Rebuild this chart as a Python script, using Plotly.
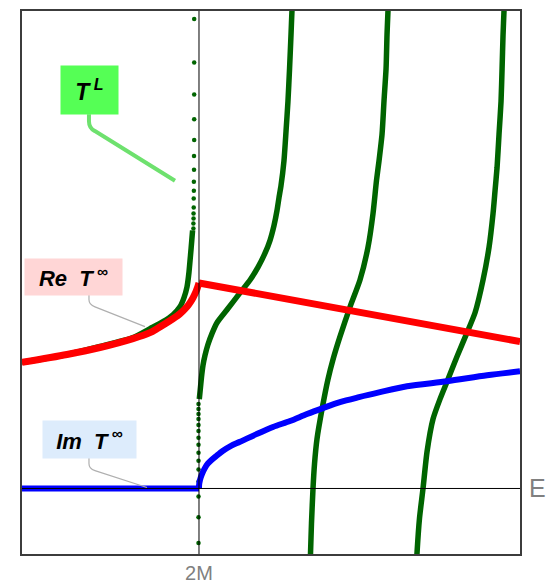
import plotly.graph_objects as go

# ---- data (E in units where 2M = 2) ----
re_left_E = [0.894, 1.175, 1.381, 1.5875, 1.694, 1.7375, 1.8375, 1.881, 1.925, 1.9475, 1.9625, 1.9775, 1.9875, 1.995, 2.0]
re_left_T = [1.27, 1.35, 1.42, 1.51, 1.57, 1.61, 1.71, 1.76, 1.83, 1.88, 1.92, 1.97, 2.01, 2.045, 2.07]
re_right_E = [2.0, 2.5, 3.0, 3.5, 4.006]
re_right_T = [2.07, 1.92, 1.77, 1.63, 1.48]

im_flat_E = [0.894, 2.0]
im_flat_T = [0.0, 0.0]
im_E = [2.0, 2.001, 2.004, 2.0106, 2.02, 2.035, 2.055, 2.08, 2.11, 2.15, 2.2, 2.256, 2.3625, 2.4625, 2.569,
        2.675, 2.775, 2.881, 3.0, 3.131, 3.3, 3.55, 3.8, 4.006]
im_T = [0.0, 0.04, 0.07, 0.11, 0.15, 0.20, 0.25, 0.29, 0.33, 0.38, 0.43, 0.47, 0.55, 0.62, 0.68,
        0.75, 0.81, 0.87, 0.92, 0.97, 1.03, 1.08, 1.14, 1.18]

# T^L branches
b1_E = [0.894, 1.175, 1.381, 1.5875, 1.694, 1.775, 1.8375, 1.881, 1.906, 1.925, 1.9375, 1.947, 1.955, 1.96]
b1_T = [1.27, 1.35, 1.43, 1.52, 1.61, 1.68, 1.75, 1.83, 1.92, 2.03, 2.18, 2.35, 2.50, 2.60]
b1_dots_E = [1.965, 1.965, 1.966, 1.966, 1.967, 1.967, 1.968, 1.968, 1.969, 1.969, 1.970, 1.970, 1.970, 1.970, 1.970]
b1_dots_T = [2.62, 2.67, 2.72, 2.77, 2.83, 2.92, 3.00, 3.09, 3.21, 3.35, 3.51, 3.72, 3.97, 4.29, 4.73]

b2_dots_E = [1.997] * 15
b2_dots_T = [0.85, 0.80, 0.75, 0.70, 0.64, 0.58, 0.51, 0.44, 0.36, 0.28, 0.19, 0.07, -0.08, -0.29, -0.55]
b2_E = [2.0019, 2.0081, 2.0156, 2.025, 2.0375, 2.056, 2.081, 2.1125, 2.175, 2.256, 2.319, 2.369, 2.4125,
        2.444, 2.469, 2.4875, 2.5, 2.5125, 2.531, 2.544, 2.556, 2.566, 2.575, 2.581, 2.584]
b2_T = [0.90, 1.00, 1.12, 1.24, 1.34, 1.45, 1.56, 1.67, 1.80, 1.97, 2.10, 2.23, 2.37,
        2.50, 2.65, 2.80, 2.93, 3.05, 3.30, 3.60, 3.90, 4.23, 4.57, 4.81, 4.90]

b3_E = [3.184, 3.181, 3.175, 3.169, 3.156, 3.144, 3.125, 3.109, 3.0875, 3.056, 3.006, 2.944, 2.881,
        2.8375, 2.806, 2.769, 2.7375, 2.722, 2.7125, 2.703, 2.697, 2.696]
b3_T = [4.90, 4.81, 4.57, 4.23, 3.90, 3.57, 3.30, 3.10, 2.77, 2.43, 2.10, 1.83, 1.53,
        1.30, 1.10, 0.80, 0.50, 0.25, 0.00, -0.35, -0.65, -0.70]

b4_E = [3.908, 3.906, 3.9, 3.894, 3.8875, 3.875, 3.8625, 3.85, 3.8375, 3.8125, 3.775, 3.725, 3.675,
        3.6125, 3.556, 3.506, 3.4625, 3.425, 3.4, 3.378, 3.3625, 3.361]
b4_T = [4.90, 4.81, 4.57, 4.23, 3.90, 3.57, 3.23, 3.00, 2.77, 2.43, 2.10, 1.77, 1.57,
        1.33, 1.10, 0.90, 0.70, 0.37, 0.00, -0.30, -0.65, -0.70]

x_tick_vals = [2.0]
x_tick_text = ["2M"]

GREEN = "rgb(0,100,0)"

fig = go.Figure()

for ex, ty in [(b1_E, b1_T), (b2_E, b2_T), (b3_E, b3_T), (b4_E, b4_T)]:
    fig.add_trace(go.Scatter(x=ex, y=ty, mode="lines",
                             line=dict(color=GREEN, width=5.5, shape="spline", smoothing=0.6),
                             hoverinfo="skip"))
for ex, ty in [(b1_dots_E, b1_dots_T), (b2_dots_E, b2_dots_T)]:
    fig.add_trace(go.Scatter(x=ex, y=ty, mode="markers", marker=dict(color=GREEN, size=4.5),
                             hoverinfo="skip"))

fig.add_trace(go.Scatter(x=re_left_E, y=re_left_T, mode="lines",
                         line=dict(color="rgb(255,0,0)", width=7, shape="spline", smoothing=0.8)))
fig.add_trace(go.Scatter(x=re_right_E, y=re_right_T, mode="lines", line=dict(color="rgb(255,0,0)", width=7)))
fig.add_trace(go.Scatter(x=im_flat_E, y=im_flat_T, mode="lines", line=dict(color="rgb(0,0,255)", width=6)))
fig.add_trace(go.Scatter(x=im_E, y=im_T, mode="lines",
                         line=dict(color="rgb(0,0,255)", width=6, shape="spline", smoothing=0.8)))

# axes lines
fig.add_shape(type="line", xref="x", yref="paper", x0=2.0, x1=2.0, y0=0, y1=1,
              line=dict(color="black", width=1), layer="above")
fig.add_shape(type="line", xref="paper", yref="y", x0=0, x1=1, y0=0, y1=0,
              line=dict(color="black", width=1), layer="above")

# callout connectors
fig.add_shape(type="path", xref="x", yref="y",
              path="M 1.3125,3.77 L 1.3125,3.70 Q 1.3125,3.63 1.35,3.60 L 1.85,3.10",
              line=dict(color="rgb(110,225,110)", width=4))
fig.add_shape(type="path", xref="x", yref="y",
              path="M 1.3125,1.95 L 1.3125,1.90 Q 1.3125,1.85 1.35,1.83 L 1.6625,1.63",
              line=dict(color="rgb(175,175,175)", width=1.2))
fig.add_shape(type="path", xref="x", yref="y",
              path="M 1.3125,0.31 L 1.3125,0.25 Q 1.3125,0.20 1.35,0.18 L 1.675,0.01",
              line=dict(color="rgb(175,175,175)", width=1.2))

FONT = "Liberation Sans, Arial, sans-serif"
fig.add_annotation(x=1.3156, y=4.01, xref="x", yref="y", showarrow=False,
                   text="<b><i>T</i></b><sup><b><i> L</i></b></sup>", width=57, height=48,
                   bgcolor="#55ff55", borderpad=0, font=dict(family=FONT, size=23, color="black"))
fig.add_annotation(x=1.2156, y=2.13, xref="x", yref="y", showarrow=False,
                   text="<b><i>Re\u00a0\u00a0T</i></b><sup><b><i> ∞</i></b></sup>", width=97, height=36,
                   bgcolor="#ffd6d6", borderpad=0, font=dict(family=FONT, size=22, color="black"))
fig.add_annotation(x=1.3156, y=0.495, xref="x", yref="y", showarrow=False,
                   text="<b><i>Im\u00a0\u00a0T</i></b><sup><b><i> ∞</i></b></sup>", width=93, height=37,
                   bgcolor="#ddecfc", borderpad=0, font=dict(family=FONT, size=22, color="black"))

fig.add_annotation(x=1.0, y=0, xref="paper", yref="y", xanchor="left", yanchor="middle",
                   xshift=7, showarrow=False, text="E",
                   font=dict(family=FONT, size=25, color="rgb(128,128,128)"))

# page body has an 8px margin; size the figure so the plot box lands where the reference has it
fig.update_layout(
    width=546, height=577,
    margin=dict(l=14, r=34, t=1, b=29),
    paper_bgcolor="white", plot_bgcolor="white",
    showlegend=False,
    xaxis=dict(range=[0.894, 4.006], showgrid=False, zeroline=False,
               showline=True, mirror=True, linecolor="rgb(60,60,60)", linewidth=1.5,
               tickvals=x_tick_vals, ticktext=x_tick_text, ticks="",
               tickfont=dict(family=FONT, size=20, color="rgb(128,128,128)")),
    yaxis=dict(range=[-0.66, 4.81], showgrid=False, zeroline=False,
               showline=True, mirror=True, linecolor="rgb(60,60,60)", linewidth=1.5,
               showticklabels=False, ticks=""),
)

fig.write_html("out.html")
